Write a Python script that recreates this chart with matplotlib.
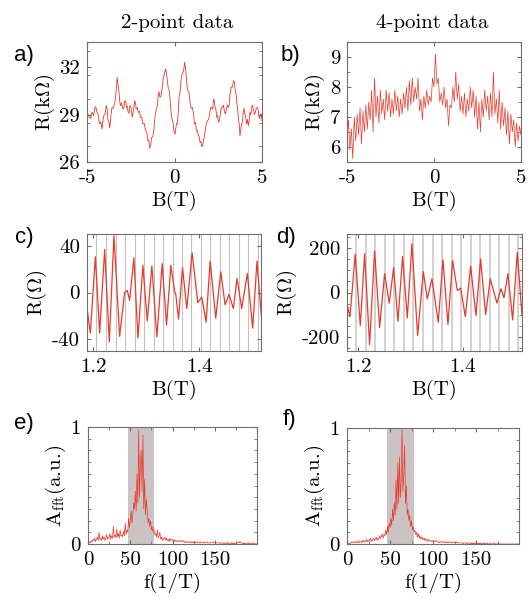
import matplotlib
matplotlib.use('Agg')
import matplotlib.pyplot as plt
from matplotlib.ticker import MultipleLocator
import numpy as np

plt.rcParams['font.family'] = 'serif'
plt.rcParams['font.serif'] = ['cmr10']
plt.rcParams['mathtext.fontset'] = 'cm'
plt.rcParams['axes.unicode_minus'] = False

RED = '#e8392b'
FRAME = '#6e6e6e'

# a) 2-point data, R (kOhm) vs B (T)
a_B = [-5.00, -4.95, -4.90, -4.80, -4.71, -4.63, -4.56, -4.50, -4.43, -4.36,
       -4.29, -4.21, -4.14, -4.09, -4.04, -3.97, -3.91, -3.85, -3.80, -3.75,
       -3.70, -3.63, -3.57, -3.49, -3.41, -3.34, -3.28, -3.23, -3.18, -3.13,
       -3.09, -3.02, -2.95, -2.90, -2.84, -2.79, -2.74, -2.70, -2.65, -2.60,
       -2.55, -2.48, -2.42, -2.35, -2.28, -2.23, -2.19, -2.13, -2.07, -2.00,
       -1.94, -1.87, -1.81, -1.73, -1.65, -1.58, -1.52, -1.47, -1.42, -1.36,
       -1.31, -1.24, -1.18, -1.11, -1.04, -0.98, -0.93, -0.88, -0.83, -0.76,
       -0.70, -0.64, -0.58, -0.51, -0.46, -0.41, -0.36, -0.32, -0.27, -0.22,
       -0.17, -0.12, -0.07, -0.02, 0.03, 0.07, 0.12, 0.16, 0.21, 0.26,
       0.32, 0.37, 0.43, 0.49, 0.53, 0.58, 0.63, 0.68, 0.72, 0.77,
       0.83, 0.89, 0.95, 1.02, 1.08, 1.14, 1.20, 1.25, 1.31, 1.37,
       1.41, 1.46, 1.51, 1.56, 1.60, 1.65, 1.70, 1.75, 1.81, 1.88,
       1.95, 2.02, 2.07, 2.13, 2.18, 2.23, 2.27, 2.32, 2.37, 2.42,
       2.46, 2.51, 2.57, 2.63, 2.68, 2.74, 2.80, 2.86, 2.91, 2.97,
       3.03, 3.09, 3.13, 3.18, 3.23, 3.28, 3.32, 3.37, 3.42, 3.47,
       3.52, 3.57, 3.61, 3.66, 3.70, 3.74, 3.78, 3.83, 3.88, 3.93,
       3.97, 4.02, 4.07, 4.12, 4.17, 4.22, 4.26, 4.31, 4.36, 4.41,
       4.46, 4.52, 4.57, 4.62, 4.67, 4.73, 4.78, 4.83, 4.87, 4.92,
       4.96, 5.00]
a_R = [28.62, 29.05, 28.93, 28.75, 29.15, 28.95, 29.36, 29.50, 29.15, 29.00,
       28.41, 28.55, 28.09, 28.60, 28.93, 29.05, 29.57, 29.35, 28.62, 28.55,
       28.15, 28.95, 29.46, 29.40, 29.78, 30.40, 31.37, 30.95, 30.52, 29.85,
       29.57, 29.75, 29.36, 29.40, 29.89, 29.85, 29.46, 29.55, 29.15, 29.10,
       29.57, 29.45, 28.83, 29.20, 29.89, 29.75, 29.36, 29.45, 29.15, 29.20,
       28.83, 28.85, 28.41, 28.45, 27.98, 27.85, 27.35, 27.40, 26.88, 27.05,
       27.56, 27.60, 28.03, 28.90, 29.36, 29.55, 30.20, 30.45, 30.10, 30.20,
       30.73, 31.30, 31.58, 31.89, 31.65, 31.15, 30.70, 30.63, 30.20, 29.46,
       28.85, 28.62, 28.40, 27.88, 27.75, 28.09, 28.45, 28.41, 29.05, 30.10,
       30.45, 31.15, 31.55, 31.68, 31.85, 32.32, 31.95, 31.37, 30.75, 30.52,
       30.40, 29.78, 29.40, 29.46, 29.10, 28.41, 28.50, 27.98, 28.00, 27.67,
       27.60, 27.24, 27.30, 26.97, 27.00, 27.35, 27.55, 27.98, 28.40, 28.62,
       28.70, 29.15, 29.45, 29.46, 29.35, 29.99, 29.90, 29.46, 29.30, 28.83,
       28.95, 28.51, 28.65, 29.15, 29.45, 29.46, 29.60, 29.15, 29.05, 29.36,
       29.60, 29.46, 29.70, 30.31, 30.75, 30.73, 30.80, 31.15, 31.05, 30.52,
       30.30, 29.68, 29.35, 28.62, 28.40, 27.67, 27.95, 28.41, 28.55, 29.15,
       29.40, 29.04, 28.85, 28.41, 28.70, 28.30, 28.55, 29.15, 29.00, 29.46,
       29.60, 29.25, 29.00, 29.15, 29.40, 29.46, 29.30, 28.83, 28.75, 29.04,
       29.05, 28.62]

# b) 4-point data, R (kOhm), sampled on a uniform sweep from -5 T to 5 T
b_R = [6.3, 6.9, 5.9, 6.6, 5.6, 7.0, 6.2, 7.1, 6.4, 7.3,
       6.1, 7.2, 6.5, 7.4, 6.6, 7.5, 6.9, 7.9, 6.5, 8.3,
       7.0, 7.7, 6.8, 7.9, 7.1, 7.6, 6.9, 7.9, 7.2, 7.8,
       7.0, 7.6, 7.1, 7.9, 7.2, 7.7, 7.0, 7.6, 7.1, 7.8,
       7.3, 8.0, 7.2, 8.2, 7.4, 8.3, 7.5, 8.0, 7.6, 8.3,
       7.2, 7.6, 6.9, 7.7, 7.3, 7.9, 7.4, 7.7, 7.5, 8.3,
       8.0, 9.1, 8.1, 8.3, 7.5, 7.8, 7.4, 8.0, 7.3, 7.6,
       6.7, 7.4, 7.3, 8.0, 7.5, 8.5, 7.6, 8.1, 7.2, 7.7,
       7.1, 7.8, 7.0, 7.6, 7.2, 8.0, 7.3, 7.9, 7.0, 7.7,
       6.6, 7.5, 6.5, 7.6, 7.0, 7.9, 7.2, 7.7, 6.9, 7.8,
       7.0, 8.5, 7.1, 7.6, 6.8, 7.9, 6.6, 7.5, 6.7, 7.3,
       6.4, 7.2, 6.1, 7.1, 6.5, 6.9, 6.0, 6.8, 6.2, 6.7,
       6.4]
b_B = np.linspace(-5, 5, len(b_R))

# c) 2-point oscillations, R (Ohm)
c_B = [1.1881, 1.1943, 1.2038, 1.2119, 1.2214, 1.2302, 1.2390, 1.2497, 1.2591, 1.2642,
       1.2686, 1.2767, 1.2843, 1.2937, 1.3019, 1.3107, 1.3201, 1.3302, 1.3384, 1.3465,
       1.3535, 1.3560, 1.3610, 1.3686, 1.3767, 1.3868, 1.3975, 1.4050, 1.4132, 1.4208,
       1.4314, 1.4409, 1.4491, 1.4566, 1.4648, 1.4717, 1.4805, 1.4912, 1.5013, 1.5094,
       1.5182]
c_R = [-13.7, -34.7, 30.5, -34.7, 36.7, -42.0, 48.5, -37.5, 0.0, 1.7,
       -6.7, 29.7, -39.0, 23.2, -24.4, 22.7, -38.0, 24.6, -27.7, 23.2,
       1.5, -2.0, -22.7, 21.3, -13.7, 33.9, -8.7, -3.9, -25.5, 26.9,
       -22.0, 17.6, -10.4, -1.7, -13.7, 12.0, -13.7, 16.2, -30.5, 26.9,
       -23.5]
c_lines = [1.2057, 1.2239, 1.2421, 1.2604, 1.2780, 1.2962, 1.3145, 1.3321, 1.3497,
           1.3679, 1.3855, 1.4038, 1.4214, 1.4396, 1.4572, 1.4755, 1.4931, 1.5113]

# d) 4-point oscillations, R (Ohm)
d_B = [1.1789, 1.1846, 1.1948, 1.2044, 1.2127, 1.2222, 1.2318, 1.2414, 1.2509, 1.2598,
       1.2681, 1.2764, 1.2853, 1.2943, 1.3032, 1.3140, 1.3249, 1.3325, 1.3414, 1.3535,
       1.3625, 1.3720, 1.3809, 1.3899, 1.3962, 1.4052, 1.4154, 1.4256, 1.4345, 1.4440,
       1.4530, 1.4657, 1.4734, 1.4791, 1.4867, 1.4957, 1.5046, 1.5135]
d_R = [-51, -109, 173, -150, 176, -236, 188, -158, 85, -48,
       112, -130, 164, -115, 221, -195, 95, -29, 62, -135,
       148, -145, 145, 9, 20, -109, 120, -105, 152, -100,
       62, -48, 17, -24, 85, -124, 182, -100]
d_lines = [1.1967, 1.2152, 1.2331, 1.2509, 1.2694, 1.2879, 1.3057, 1.3242, 1.3427,
           1.3606, 1.3790, 1.3969, 1.4154, 1.4338, 1.4517, 1.4702, 1.4880, 1.5065]

# e), f) FFT amplitude vs frequency (1/T), one value per 1/T from 0 to 200
e_A = [0.00, 0.01, 0.02, 0.01, 0.03, 0.02, 0.04, 0.03, 0.05, 0.02,
       0.04, 0.06, 0.03, 0.10, 0.04, 0.05, 0.03, 0.07, 0.04, 0.06,
       0.03, 0.05, 0.08, 0.04, 0.06, 0.05, 0.09, 0.04, 0.07, 0.05,
       0.15, 0.06, 0.08, 0.05, 0.13, 0.06, 0.09, 0.05, 0.12, 0.07,
       0.08, 0.06, 0.11, 0.07, 0.18, 0.08, 0.12, 0.10, 0.22, 0.14,
       0.20, 0.28, 0.18, 0.25, 0.35, 0.30, 0.45, 0.28, 0.60, 0.35,
       0.97, 0.40, 0.70, 0.80, 0.45, 0.93, 0.30, 0.55, 0.25, 0.38,
       0.30, 0.18, 0.22, 0.15, 0.20, 0.12, 0.15, 0.10, 0.13, 0.08,
       0.09, 0.06, 0.12, 0.05, 0.07, 0.10, 0.04, 0.06, 0.03, 0.05,
       0.04, 0.06, 0.03, 0.05, 0.03, 0.04, 0.02, 0.05, 0.03, 0.04,
       0.03, 0.02, 0.04, 0.02, 0.03, 0.02, 0.03, 0.02, 0.03, 0.02,
       0.03, 0.02, 0.02, 0.03, 0.01, 0.02, 0.02, 0.01, 0.02, 0.02,
       0.01, 0.02, 0.01, 0.02, 0.01, 0.02, 0.01, 0.02, 0.01, 0.01,
       0.02, 0.01, 0.01, 0.02, 0.01, 0.01, 0.01, 0.02, 0.01, 0.01,
       0.01, 0.02, 0.01, 0.01, 0.01, 0.01, 0.01, 0.01, 0.02, 0.01,
       0.01, 0.01, 0.01, 0.01, 0.01, 0.01, 0.01, 0.00, 0.01, 0.01,
       0.01, 0.00, 0.01, 0.01, 0.00, 0.01, 0.00, 0.01, 0.01, 0.00,
       0.01, 0.00, 0.01, 0.00, 0.01, 0.00, 0.01, 0.01, 0.02, 0.01,
       0.02, 0.01, 0.01, 0.00, 0.01, 0.00, 0.01, 0.00, 0.00, 0.01,
       0.00, 0.01, 0.00, 0.00, 0.01, 0.00, 0.00, 0.01, 0.00, 0.00,
       0.00]
f_A = [0.00, 0.01, 0.01, 0.00, 0.01, 0.01, 0.02, 0.01, 0.01, 0.02,
       0.01, 0.02, 0.01, 0.03, 0.01, 0.02, 0.02, 0.01, 0.03, 0.02,
       0.02, 0.03, 0.02, 0.04, 0.02, 0.03, 0.03, 0.05, 0.02, 0.04,
       0.03, 0.05, 0.03, 0.04, 0.06, 0.03, 0.05, 0.04, 0.07, 0.05,
       0.06, 0.09, 0.05, 0.08, 0.07, 0.12, 0.08, 0.15, 0.10, 0.18,
       0.14, 0.22, 0.16, 0.30, 0.20, 0.36, 0.25, 0.55, 0.30, 0.70,
       0.35, 0.75, 0.40, 0.55, 1.00, 0.45, 0.60, 0.85, 0.35, 0.50,
       0.25, 0.30, 0.20, 0.25, 0.15, 0.20, 0.12, 0.15, 0.10, 0.12,
       0.08, 0.10, 0.06, 0.09, 0.05, 0.07, 0.04, 0.06, 0.04, 0.05,
       0.03, 0.05, 0.03, 0.04, 0.02, 0.04, 0.03, 0.03, 0.02, 0.03,
       0.02, 0.03, 0.02, 0.02, 0.03, 0.02, 0.02, 0.01, 0.02, 0.02,
       0.01, 0.02, 0.02, 0.01, 0.02, 0.01, 0.02, 0.01, 0.01, 0.02,
       0.01, 0.02, 0.01, 0.01, 0.02, 0.01, 0.01, 0.01, 0.02, 0.01,
       0.01, 0.01, 0.01, 0.01, 0.01, 0.00, 0.01, 0.01, 0.00, 0.01,
       0.01, 0.00, 0.01, 0.01, 0.00, 0.01, 0.00, 0.01, 0.00, 0.01,
       0.00, 0.01, 0.00, 0.01, 0.00, 0.01, 0.00, 0.00, 0.01, 0.00,
       0.01, 0.00, 0.00, 0.01, 0.00, 0.00, 0.00, 0.01, 0.00, 0.00,
       0.00, 0.01, 0.00, 0.00, 0.00, 0.00, 0.01, 0.00, 0.00, 0.00,
       0.00, 0.00, 0.00, 0.00, 0.00, 0.00, 0.00, 0.00, 0.00, 0.00,
       0.00, 0.00, 0.00, 0.00, 0.00, 0.00, 0.00, 0.00, 0.00, 0.00,
       0.00]
freq = np.arange(len(e_A))
band = (47, 78)


def style(ax):
    for s in ax.spines.values():
        s.set_color(FRAME)
        s.set_linewidth(0.8)
    ax.tick_params(which='both', direction='in', top=True, right=True,
                   color=FRAME, labelsize=15, pad=5)
    ax.tick_params(which='major', length=3)
    ax.tick_params(which='minor', length=2)


fig = plt.figure(figsize=(5.28, 5.99), dpi=100)
W, H = 528, 599


def add_axes(x0, x1, y0, y1):
    return fig.add_axes([x0 / W, 1 - y1 / H, (x1 - x0) / W, (y1 - y0) / H])


ax_a = add_axes(87, 262, 42, 162)
ax_b = add_axes(347, 521, 42, 162)
ax_c = add_axes(87, 261, 234, 351)
ax_d = add_axes(347, 522, 234, 351)
ax_e = add_axes(88, 257, 427, 544)
ax_f = add_axes(347, 519, 428, 544)

# a
ax_a.plot(a_B, a_R, color=RED, lw=0.6)
ax_a.set_xlim(-5, 5)
ax_a.set_ylim(26, 33.6)
ax_a.set_xticks([-5, 0, 5], labels=['-5', '0', '5'])
ax_a.set_yticks([26, 29, 32])
ax_a.yaxis.set_minor_locator(MultipleLocator(1.5))
ax_a.set_ylabel(r'R(k$\Omega$)', fontsize=15, labelpad=2)
ax_a.set_xlabel('B(T)', fontsize=15, labelpad=3)

# b
ax_b.plot(b_B, b_R, color=RED, lw=0.5)
ax_b.set_xlim(-5, 5)
ax_b.set_ylim(5.5, 9.5)
ax_b.set_xticks([-5, 0, 5], labels=['-5', '0', '5'])
ax_b.set_yticks([6, 7, 8, 9])
ax_b.yaxis.set_minor_locator(MultipleLocator(0.5))
ax_b.set_ylabel(r'R(k$\Omega$)', fontsize=15, labelpad=2)
ax_b.set_xlabel('B(T)', fontsize=15, labelpad=3)

# c
for xv in c_lines:
    ax_c.axvline(xv, color='#c2c2c2', lw=0.8, zorder=1)
ax_c.plot(c_B, c_R, color=RED, lw=0.9, zorder=2, solid_joinstyle='round')
ax_c.set_xlim(1.188, 1.517)
ax_c.set_ylim(-50, 50)
ax_c.set_xticks([1.2, 1.4], labels=['1.2', '1.4'])
ax_c.set_yticks([-40, 0, 40], labels=['-40', '0', '40'])
ax_c.set_ylabel(r'R($\Omega$)', fontsize=15, labelpad=2)
ax_c.set_xlabel('B(T)', fontsize=15, labelpad=3)

# d
for xv in d_lines:
    ax_d.axvline(xv, color='#d2d2d2', lw=1.4, zorder=1)
ax_d.plot(d_B, d_R, color=RED, lw=0.9, zorder=2, solid_joinstyle='round')
ax_d.set_xlim(1.179, 1.5136)
ax_d.set_ylim(-265, 265)
ax_d.set_xticks([1.2, 1.4], labels=['1.2', '1.4'])
ax_d.set_yticks([-200, 0, 200], labels=['-200', '0', '200'])
ax_d.yaxis.set_minor_locator(MultipleLocator(50))
ax_d.set_ylabel(r'R($\Omega$)', fontsize=15, labelpad=2)
ax_d.set_xlabel('B(T)', fontsize=15, labelpad=3)

# e, f
for ax, amp in [(ax_e, e_A), (ax_f, f_A)]:
    ax.axvspan(band[0], band[1], color='#cbc3c3', lw=0, zorder=1)
    ax.plot(freq, amp, color=RED, lw=0.5, zorder=2)
    ax.set_xlim(0, 200)
    ax.set_ylim(0, 1.0)
    ax.set_xticks([0, 50, 100, 150])
    ax.set_yticks([0, 1])
    ax.xaxis.set_minor_locator(MultipleLocator(25))
    ax.yaxis.set_minor_locator(MultipleLocator(0.1))
    ax.set_ylabel(r'A$_{\mathrm{fft}}$(a.u.)', fontsize=15, labelpad=2)
    ax.set_xlabel('f(1/T)', fontsize=15, labelpad=3)

for ax in [ax_a, ax_b, ax_c, ax_d, ax_e, ax_f]:
    style(ax)

fig.text(177 / W, 1 - 23 / H, '2-point data', fontsize=15, ha='center', va='center')
fig.text(432 / W, 1 - 23 / H, '4-point data', fontsize=15, ha='center', va='center')

panel = [('a)', 24, 55), ('b)', 290, 55), ('c)', 24, 238),
         ('d)', 286, 237), ('e)', 24, 423), ('f)', 289, 420)]
for lab, px, py in panel:
    fig.text(px / W, 1 - py / H, lab, fontsize=16, family='Liberation Sans',
             ha='center', va='center')

fig.savefig('out.png', dpi=100)
